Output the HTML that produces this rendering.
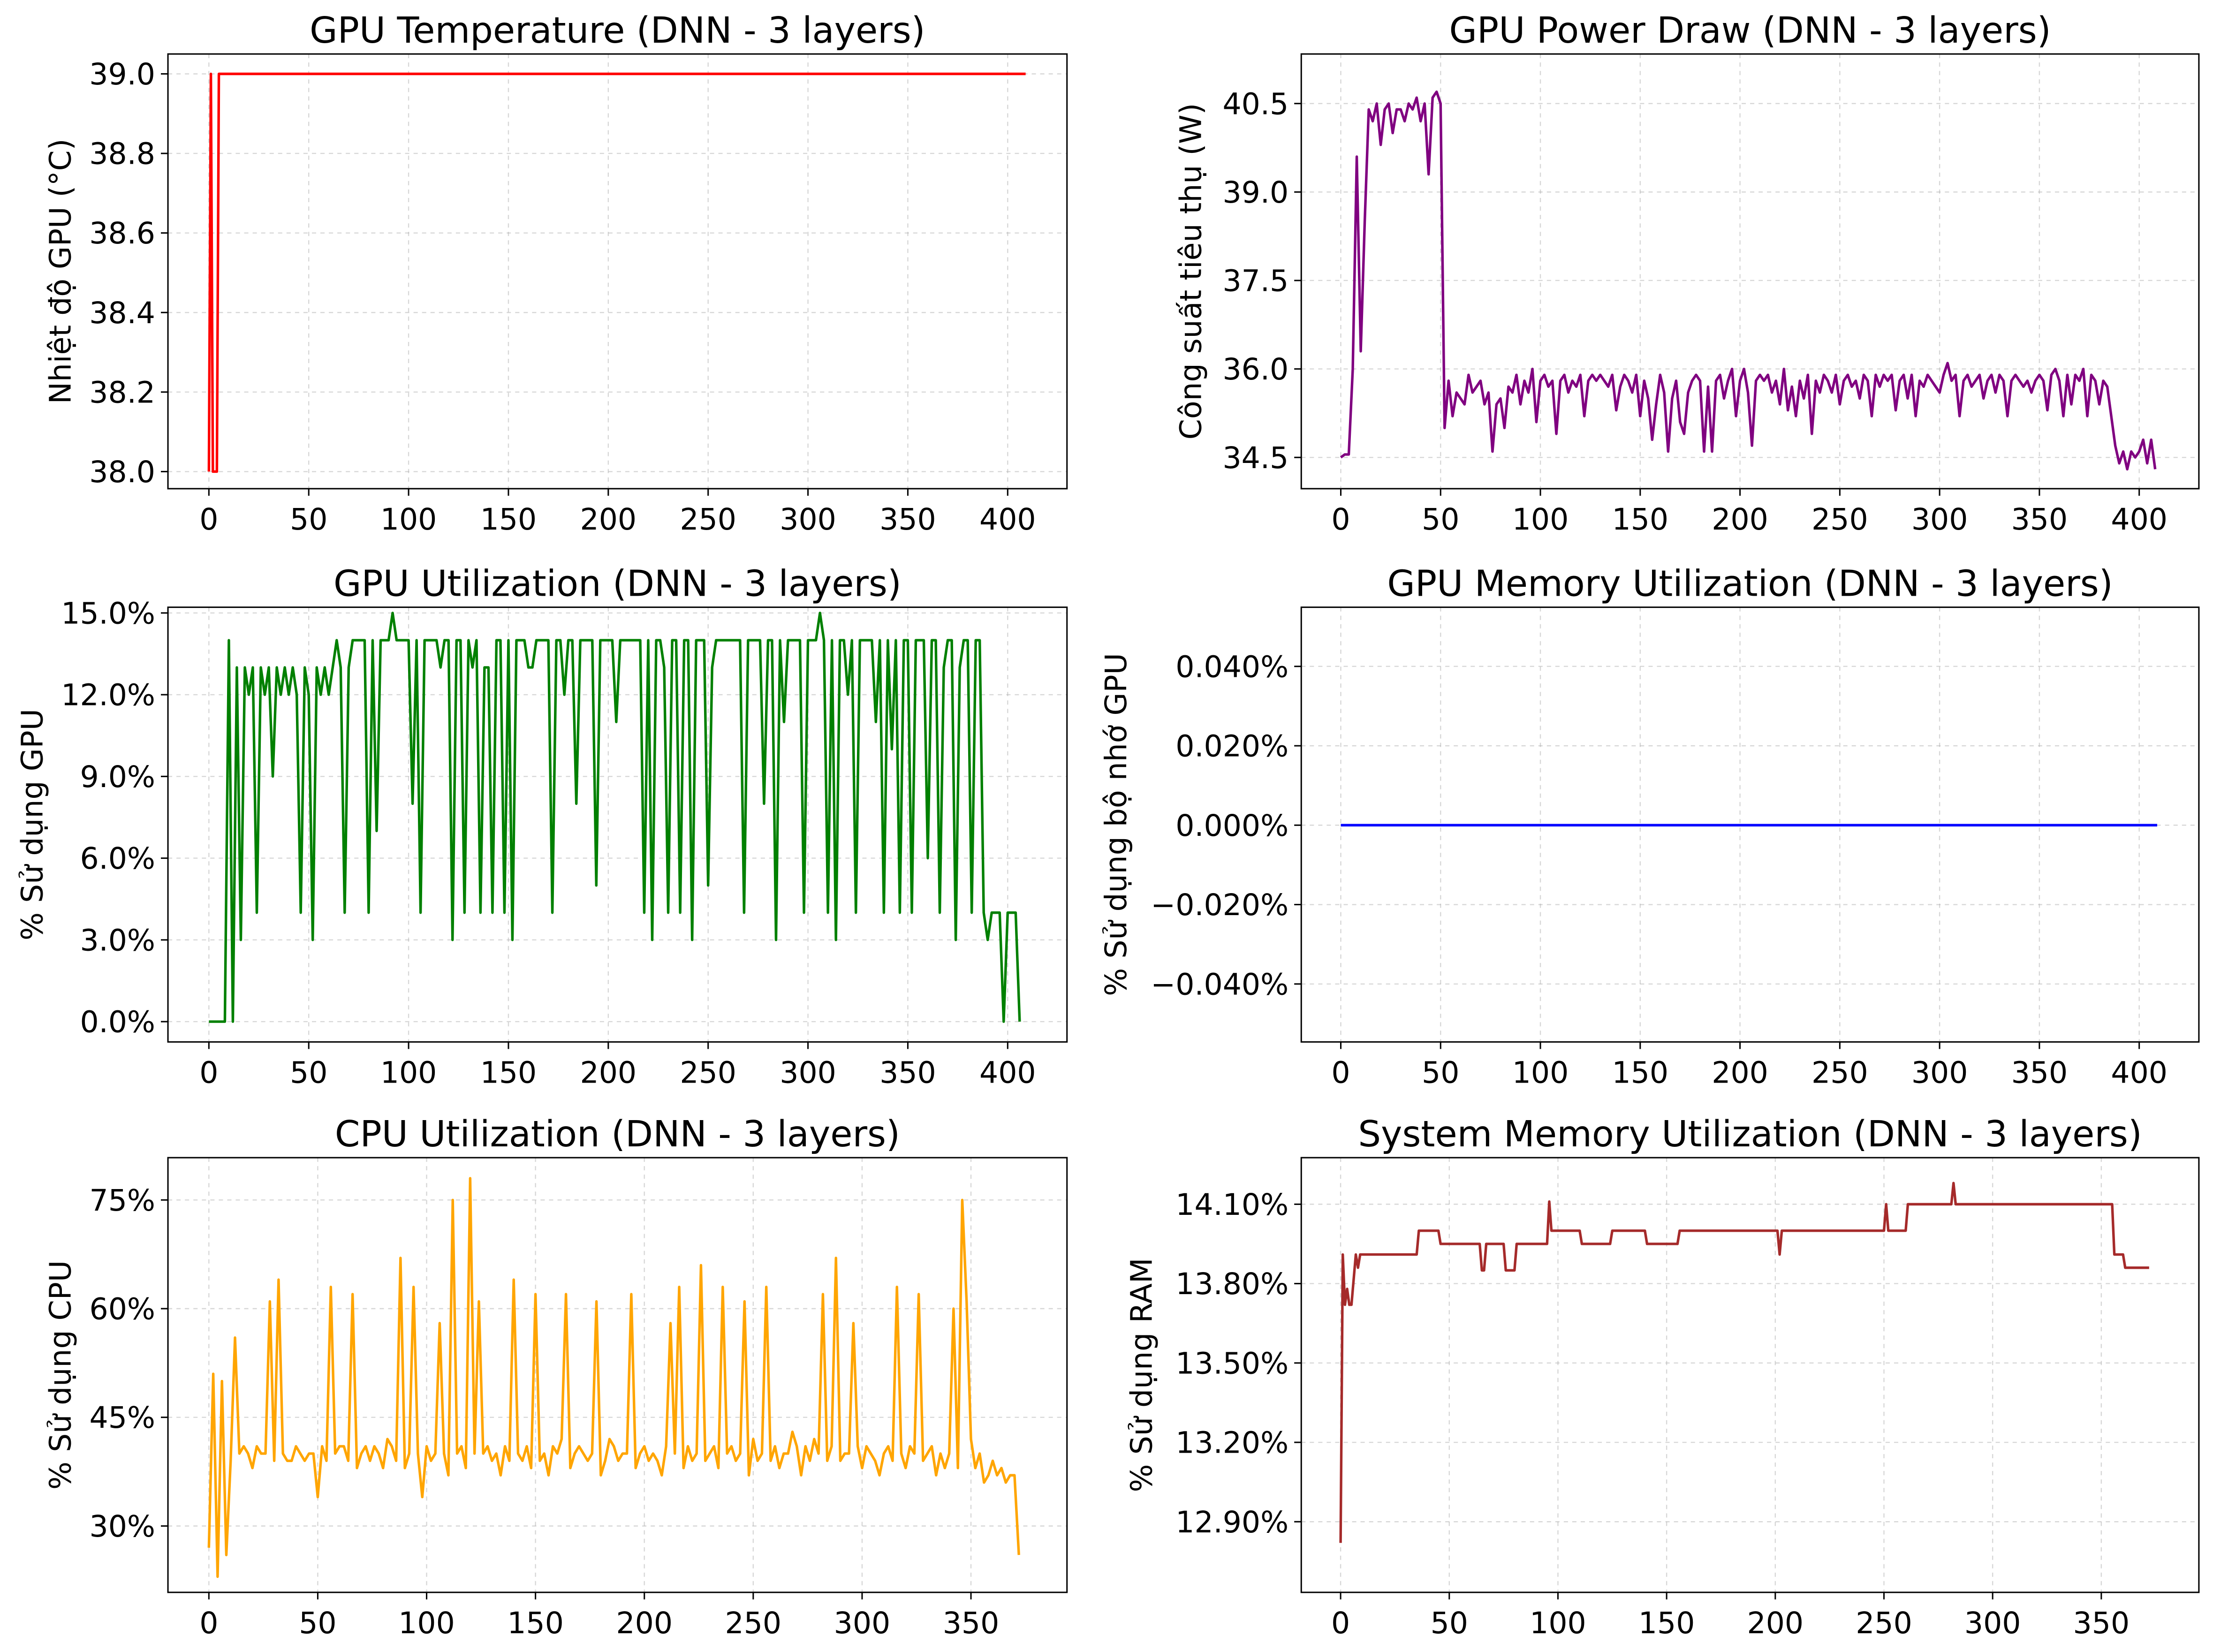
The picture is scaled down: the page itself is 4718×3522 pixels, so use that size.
<!DOCTYPE html>
<html><head><meta charset="utf-8"><style>html,body{margin:0;padding:0;background:#fff}svg{display:block}</style></head>
<body>
<svg id="fig" xmlns="http://www.w3.org/2000/svg" width="4718" height="3522" viewBox="0 0 1568 1170" font-family="DejaVu Sans, Liberation Sans, sans-serif"></svg>
<script>
// ---- data ----
const tempX = [0,1,2,3,4,5,409];
const tempY = [38,39,38,38,38,39,39];
const pwrStep = 2;
const pwrY = [34.5,34.55,34.55,36.0,39.6,36.3,38.5,40.4,40.2,40.5,39.8,40.4,40.5,40.0,40.4,40.4,40.2,40.5,40.4,40.6,40.2,40.5,39.3,40.6,40.7,40.5,35.0,35.8,35.2,35.6,35.5,35.4,35.9,35.6,35.7,35.8,35.4,35.6,34.6,35.4,35.5,35.0,35.7,35.6,35.9,35.4,35.8,35.6,36.0,35.1,35.8,35.9,35.7,35.8,34.9,35.8,35.9,35.6,35.8,35.7,35.9,35.2,35.8,35.9,35.8,35.9,35.8,35.7,35.9,35.3,35.7,35.9,35.8,35.6,35.9,35.2,35.8,35.5,34.8,35.4,35.9,35.6,34.6,35.5,35.8,35.1,34.9,35.6,35.8,35.9,35.8,34.6,35.7,34.6,35.8,35.9,35.5,35.8,36.0,35.2,35.8,36.0,35.6,34.7,35.8,35.9,35.8,35.9,35.6,35.8,35.4,36.0,35.3,35.7,35.2,35.8,35.5,35.9,34.9,35.8,35.6,35.9,35.8,35.6,35.9,35.4,35.8,35.9,35.7,35.8,35.5,35.9,35.8,35.2,35.9,35.7,35.9,35.8,35.9,35.3,35.8,35.9,35.5,35.9,35.2,35.8,35.7,35.9,35.8,35.7,35.6,35.9,36.1,35.8,35.9,35.2,35.8,35.9,35.7,35.8,35.9,35.5,35.8,35.9,35.6,35.9,35.8,35.2,35.8,35.9,35.8,35.7,35.8,35.6,35.8,35.9,35.8,35.3,35.9,36.0,35.8,35.2,35.9,35.4,35.9,35.8,36.0,35.2,35.9,35.8,35.4,35.8,35.7,35.2,34.7,34.4,34.6,34.3,34.6,34.5,34.6,34.8,34.4,34.8,34.3];
const gpuStep = 2;
const gpuY = [0,0,0,0,0,14,0,13,3,13,12,13,4,13,12,13,9,13,12,13,12,13,12,4,13,12,3,13,12,13,12,13,14,13,4,13,14,14,14,14,4,14,7,14,14,14,15,14,14,14,14,8,14,4,14,14,14,14,13,14,14,3,14,14,4,14,13,14,4,13,13,4,14,14,4,14,3,14,14,14,13,13,14,14,14,14,4,14,14,12,14,14,8,14,14,14,14,5,14,14,14,14,11,14,14,14,14,14,14,4,14,3,14,14,13,4,14,14,4,14,14,3,14,14,14,5,13,14,14,14,14,14,14,14,4,14,14,14,14,8,14,14,3,14,11,14,14,14,14,4,14,14,14,15,14,4,14,3,14,14,12,14,4,14,14,14,14,11,14,4,14,10,14,4,14,14,4,14,14,14,6,14,14,4,13,14,14,3,13,14,14,4,14,14,4,3,4,4,4,0,4,4,4,0];
const memX = [0,409];
const memY = [0,0];
const cpuStep = 2;
const cpuY = [27,51,23,50,26,39,56,40,41,40,38,41,40,40,61,39,64,40,39,39,41,40,39,40,40,34,41,39,63,40,41,41,39,62,38,40,41,39,41,40,38,42,41,39,67,38,40,63,40,34,41,39,40,58,40,37,75,40,41,38,78,40,61,40,41,39,40,37,41,39,64,40,39,41,38,62,39,40,37,41,40,42,62,38,40,41,40,39,40,61,37,39,42,41,39,40,40,62,38,40,41,39,40,39,37,41,58,40,63,38,41,39,40,66,39,40,41,38,63,40,41,39,40,61,37,42,39,40,63,39,41,38,40,40,43,41,37,41,39,42,40,62,39,41,67,39,40,40,58,41,38,41,40,39,37,40,41,39,63,40,38,41,40,62,39,40,41,37,40,38,40,60,38,75,61,42,38,40,36,37,39,37,38,36,37,37,26];
const ramX = [0,1,2,3,4,5,7,8,9,10,12,35,36,45,46,64,65,66,67,70,75,76,80,81,95,96,97,110,111,124,125,140,141,155,156,201,202,203,250,251,252,260,261,281,282,283,355,356,360,361,365,372];
const ramY = [12.82,13.91,13.72,13.78,13.72,13.72,13.91,13.86,13.91,13.91,13.91,13.91,14.0,14.0,13.95,13.95,13.85,13.85,13.95,13.95,13.95,13.85,13.85,13.95,13.95,14.11,14.0,14.0,13.95,13.95,14.0,14.0,13.95,13.95,14.0,14.0,13.91,14.0,14.0,14.1,14.0,14.0,14.1,14.1,14.18,14.1,14.1,13.91,13.91,13.86,13.86,13.86];
// ---- drawing ----
const NS='http://www.w3.org/2000/svg';
const fig=document.getElementById('fig');
function mk(tag,attrs,parent){const e=document.createElementNS(NS,tag);for(const k in attrs)e.setAttribute(k,attrs[k]);(parent||fig).appendChild(e);return e;}
function panel(key,box,xd,yd,xt,yt,fmt,title,ylab,color,xs,ys,ylOff){
  const [L,T,R,B]=box;
  const g=mk('g',{});
  
  
  const sx=v=>L+(v-xd[0])/(xd[1]-xd[0])*(R-L);
  const sy=v=>B-(v-yd[0])/(yd[1]-yd[0])*(B-T);
  xt.forEach(t=>{const x=sx(t);
    const gl=mk('line',{x1:x,x2:x,y1:T,y2:B,stroke:'#b0b0b0','stroke-width':0.8,'stroke-dasharray':'3,3','stroke-opacity':0.5},g);
    
    mk('line',{x1:x,x2:x,y1:B,y2:B+5,stroke:'#000','stroke-width':1},g);
    const tx=mk('text',{x:x,y:B+29,'text-anchor':'middle','font-size':21},g);tx.textContent=t;
    });
  yt.forEach(t=>{const y=sy(t);
    const gl=mk('line',{x1:L,x2:R,y1:y,y2:y,stroke:'#b0b0b0','stroke-width':0.8,'stroke-dasharray':'3,3','stroke-opacity':0.5},g);
    
    mk('line',{x1:L-5,x2:L,y1:y,y2:y,stroke:'#000','stroke-width':1},g);
    const tx=mk('text',{x:L-9,y:y+7.5,'text-anchor':'end','font-size':21},g);tx.textContent=fmt(t);
    });
  let d='';xs.forEach((x,i)=>{d+=(i?'L':'M')+sx(x).toFixed(2)+','+sy(ys[i]).toFixed(2);});
  const ln=mk('path',{d:d,fill:'none',stroke:color,'stroke-width':1.8,'stroke-linejoin':'round'},g);
  
  const fr=mk('rect',{x:L,y:T,width:R-L,height:B-T,fill:'none',stroke:'#000','stroke-width':1},g);
  
  const ti=mk('text',{x:(L+R)/2,y:T-8,'text-anchor':'middle','font-size':25.5},g);ti.textContent=title;
  
  const yl=mk('text',{x:0,y:0,'text-anchor':'middle','font-size':21,transform:`translate(${L-ylOff},${(T+B)/2}) rotate(-90)`},g);
  yl.textContent=ylab;
}
const idx=(arr,step)=>arr.map((_,i)=>i*step);
const x400=[0,50,100,150,200,250,300,350,400], x350=[0,50,100,150,200,250,300,350];
panel('temperature',[119,38,756,346],[-20.5,429.7],[37.957,39.05],x400,[38,38.2,38.4,38.6,38.8,39],v=>v.toFixed(1),'GPU Temperature (DNN - 3 layers)','Nhiệt độ GPU (°C)','#ff0000',tempX,tempY,69);
panel('power',[922,38,1558,346],[-19.8,429.9],[33.97,41.34],x400,[34.5,36,37.5,39,40.5],v=>v.toFixed(1),'GPU Power Draw (DNN - 3 layers)','Công suất tiêu thụ (W)','#800080',idx(pwrY,pwrStep),pwrY,71);
panel('gpu-util',[119,430,756,738],[-20.5,429.7],[-0.745,15.21],x400,[0,3,6,9,12,15],v=>v.toFixed(1)+'%','GPU Utilization (DNN - 3 layers)','% Sử dụng GPU','#008000',idx(gpuY,gpuStep),gpuY,89);
panel('gpu-memory',[922,430,1558,738],[-19.8,429.9],[-0.0546,0.0549],x400,[-0.04,-0.02,0,0.02,0.04],v=>(v<0?'\u2212':'')+Math.abs(v).toFixed(3)+'%','GPU Memory Utilization (DNN - 3 layers)','% Sử dụng bộ nhớ GPU','#0000ff',memX,memY,124);
panel('cpu',[119,820,756,1128],[-18.8,394.1],[20.84,80.84],x350,[30,45,60,75],v=>v+'%','CPU Utilization (DNN - 3 layers)','% Sử dụng CPU','#ffa500',idx(cpuY,cpuStep),cpuY,69);
panel('ram',[922,820,1558,1128],[-18.1,394.9],[12.633,14.276],x350,[12.9,13.2,13.5,13.8,14.1],v=>v.toFixed(2)+'%','System Memory Utilization (DNN - 3 layers)','% Sử dụng RAM','#a52a2a',ramX,ramY,106);
</script>
</body></html>
